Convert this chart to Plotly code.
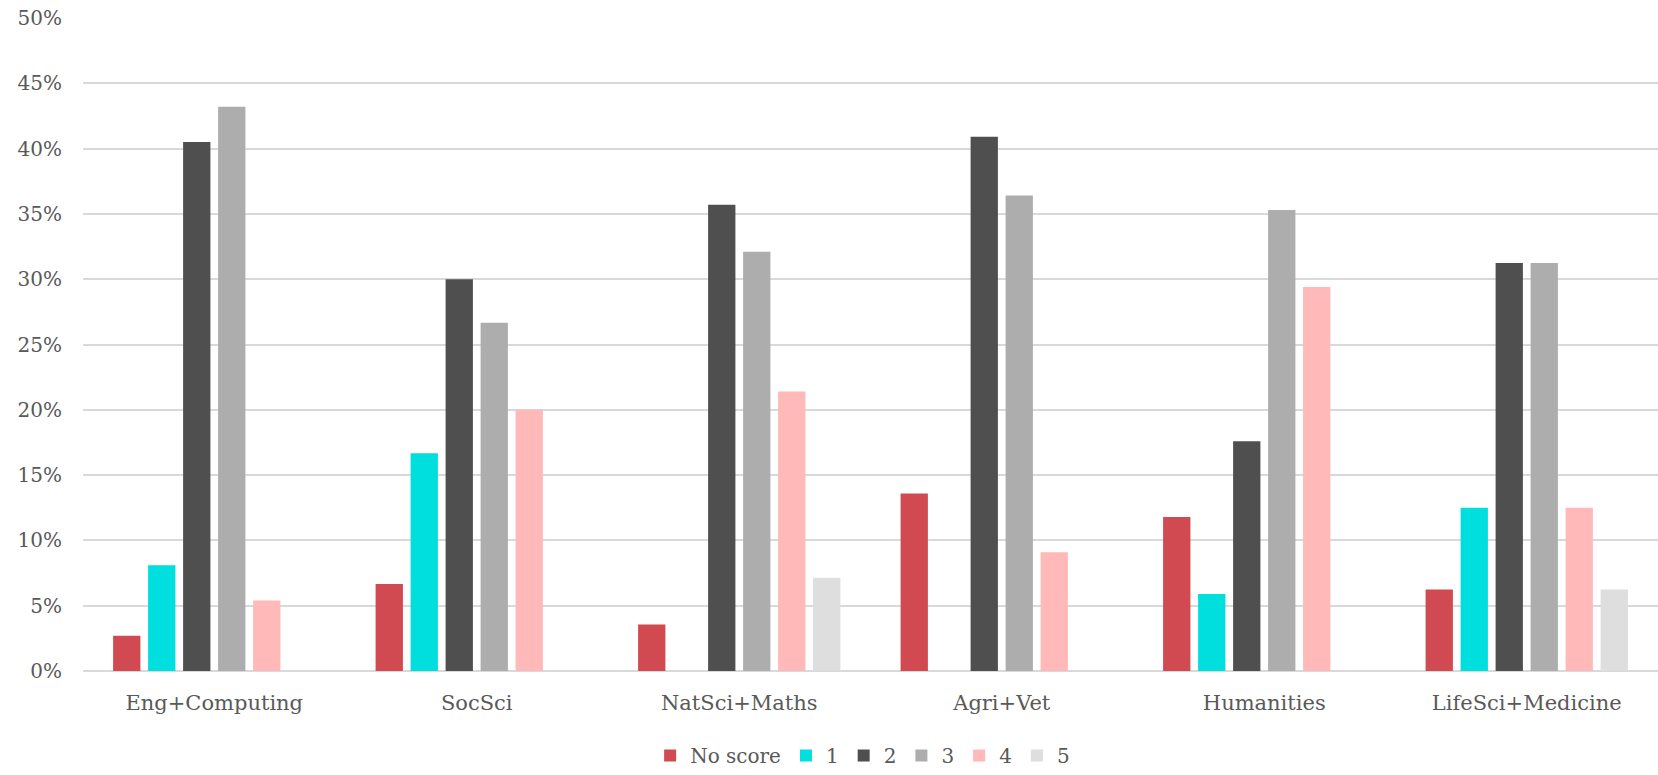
import plotly.graph_objects as go

categories = ["Eng+Computing", "SocSci", "NatSci+Maths", "Agri+Vet", "Humanities", "LifeSci+Medicine"]
series_names = ["No score", "1", "2", "3", "4", "5"]
no_score = [2.7, 6.67, 3.57, 13.6, 11.8, 6.25]
score_1 = [8.1, 16.67, None, None, 5.9, 12.5]
score_2 = [40.5, 30.0, 35.7, 40.9, 17.6, 31.25]
score_3 = [43.2, 26.67, 32.1, 36.4, 35.3, 31.25]
score_4 = [5.4, 20.0, 21.4, 9.1, 29.4, 12.5]
score_5 = [None, None, 7.14, None, None, 6.25]
colors = ["#D14A51", "#00DEDD", "#4F4F4F", "#ADADAD", "#FFB9B9", "#DEDEDE"]

values = [no_score, score_1, score_2, score_3, score_4, score_5]

fig = go.Figure()
for name, vals, col in zip(series_names, values, colors):
    fig.add_trace(go.Bar(
        x=categories,
        y=[None if v is None else v / 100 for v in vals],
        name=name,
        marker=dict(color=col, line=dict(width=0)),
    ))

font_family = "DejaVu Serif, Georgia, serif"
fig.update_layout(
    width=1658, height=775,
    margin=dict(l=83, r=0, t=18, b=100),
    barmode="group",
    bargap=0.2,
    bargroupgap=0.22,
    plot_bgcolor="white",
    paper_bgcolor="white",
    font=dict(family=font_family, color="#595959", size=20),
    legend=dict(
        orientation="h", x=0.495, xanchor="center", y=-0.1, yanchor="top",
        font=dict(size=20, color="#595959"),
        itemwidth=30, tracegroupgap=0,
    ),
    xaxis=dict(
        showgrid=False, showline=False, ticks="",
        ticklabelstandoff=17,
        tickfont=dict(size=21, color="#595959"),
    ),
    yaxis=dict(
        range=[0, 0.5], dtick=0.05, tickformat=".0%",
        showgrid=True, gridcolor="#D9D9D9", gridwidth=1.5,
        zeroline=True, zerolinecolor="#D9D9D9", zerolinewidth=1.5,
        showline=False, ticks="",
        ticklabelstandoff=20,
        tickfont=dict(size=20, color="#595959"),
    ),
)

fig.write_html("out.html")
